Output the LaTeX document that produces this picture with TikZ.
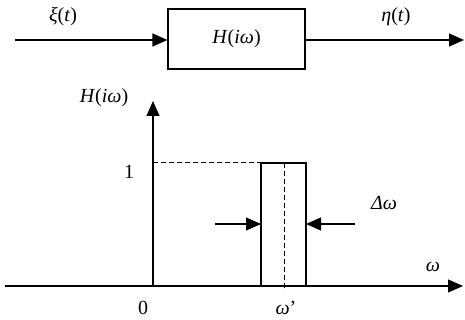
\documentclass[tikz,border=0pt]{standalone}
\usepackage{fontspec}
\setmainfont{Liberation Serif}
\usetikzlibrary{arrows.meta}
\begin{document}
\begin{tikzpicture}[x=1pt,y=-1pt,
  line width=1.2pt,
  arr/.style={-{Triangle[length=15pt,width=13pt]}},
  lbl/.style={font=\fontsize{20}{24}\selectfont, inner sep=0pt},
  dsh/.style={dash pattern=on 5pt off 3pt, line width=1pt}]
\useasboundingbox (0,0) rectangle (465,320);
% top block diagram
\node[draw, minimum width=137pt, minimum height=60pt, inner sep=0pt, lbl] (box) at (236.5,39) {\textit{H}(\textit{iω})};
\coordinate (in) at (15,40);
\coordinate (out) at (464,40);
\draw[arr] (in) -- (box.west|-in);
\draw[arr] (box.east|-out) -- (out);
\node[lbl] (xi) at (63,17) {\textit{ξ}(\textit{t})};
\node[lbl] (eta) at (396,17) {\textit{η}(\textit{t})};
% axes
\coordinate (o) at (153,286);
\coordinate (xs) at (5,286);
\coordinate (xe) at (463,286);
\coordinate (ye) at (153,101);
\draw[arr] (xs) -- (xe);
\draw[arr] (o) -- (ye);
% rectangle
\coordinate (rbl) at (261,286);
\coordinate (rtr) at (306,163);
\draw (rbl) rectangle (rtr);
\coordinate (one) at (153,163);
\draw[dsh] (one) -- (261,163);
\coordinate (wt) at (284,163);
\coordinate (wb) at (284,291);
\draw[dsh] (wt) -- (wb);
% width arrows
\coordinate (la) at (215,224);
\coordinate (ra) at (355,224);
\draw[arr] (la) -- (261,224);
\draw[arr] (ra) -- (306,224);
% labels
\node[lbl] (hl) at (104,98) {\textit{H}(\textit{iω})};
\node[lbl] (l1) at (129,172) {1};
\node[lbl] (l0) at (143,308) {0};
\node[lbl] (lwp) at (286,308) {\textit{ω}’};
\node[lbl] (lw) at (433,267) {\textit{ω}};
\node[lbl] (ldw) at (384,203) {\textit{Δω}};
\end{tikzpicture}
\end{document}
